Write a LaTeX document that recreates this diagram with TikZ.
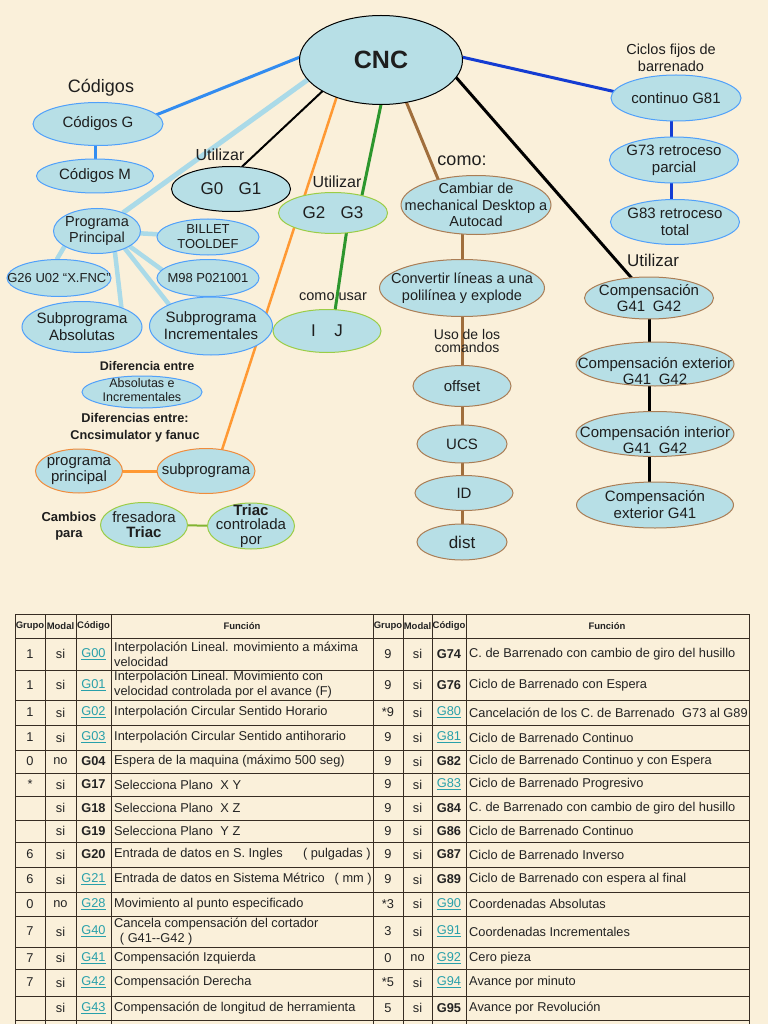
\documentclass[tikz,border=0pt]{standalone}
\usepackage{fontspec}
\setmainfont{Liberation Sans}
\usetikzlibrary{shapes.geometric,calc}
\pgfdeclarelayer{bgl}
\pgfdeclarelayer{edges}
\pgfsetlayers{bgl,edges,main}
\definecolor{bgc}{RGB}{250,240,218}
\definecolor{elf}{RGB}{183,223,230}
\definecolor{txt}{RGB}{30,30,30}
\definecolor{bdblue}{RGB}{80,160,250}
\definecolor{bdgreen}{RGB}{155,205,70}
\definecolor{bdbrown}{RGB}{170,125,85}
\definecolor{bdorange}{RGB}{240,140,60}
\definecolor{lnblue}{RGB}{50,140,240}
\definecolor{lnlight}{RGB}{170,218,232}
\definecolor{lnorange}{RGB}{255,153,51}
\definecolor{lngreen}{RGB}{45,150,45}
\definecolor{lnbrown}{RGB}{160,110,60}
\definecolor{lndblue}{RGB}{20,60,210}
\definecolor{lnyg}{RGB}{130,180,50}
\definecolor{linkc}{RGB}{40,160,170}
\definecolor{tline}{RGB}{55,45,35}
\definecolor{ttxt}{RGB}{35,35,35}
\newcommand\fsz[2]{\fontsize{#1}{#2}\selectfont}
\newcommand\lkc[1]{\textcolor{linkc}{\underline{#1}}}
\newcommand\bdc[1]{\textbf{#1}}
\tikzset{
  el/.style={ellipse, fill=elf, inner sep=0pt, outer sep=0pt, line width=1pt},
  eb/.style={el, draw=bdblue},
  ebk/.style={el, draw=black},
  eg/.style={el, draw=bdgreen},
  ebr/.style={el, draw=bdbrown},
  eo/.style={el, draw=bdorange},
  etx/.style={align=center, inner sep=0pt, text=txt},
  lbl/.style={align=center, inner sep=0pt, text=txt},
  lcb/.style={draw=lnblue, line width=3pt},
  llb/.style={draw=lnlight, line width=5pt},
  llb2/.style={draw=lnlight, line width=4.5pt},
  lblkthin/.style={draw=black, line width=2pt},
  lblk/.style={draw=black, line width=3pt},
  lor/.style={draw=lnorange, line width=2.5pt},
  lorthick/.style={draw=lnorange, line width=3pt},
  lgr/.style={draw=lngreen, line width=3pt},
  lbr/.style={draw=lnbrown, line width=3pt},
  ldb/.style={draw=lndblue, line width=3pt},
  lgl/.style={draw=lnyg, line width=2pt},
  tl/.style={draw=tline, line width=0.9pt},
  tc/.style={inner sep=0pt, text=ttxt, font=\fsz{12.8}{15}},
  tf/.style={inner sep=0pt, anchor=west, align=left, text=ttxt, font=\fsz{12.8}{15}},
  th/.style={inner sep=0pt, text=ttxt, font=\fsz{9.5}{10}\bfseries},
}
% #1 style, #2 name, #3 x, #4 y, #5 w, #6 h, #7 text options, #8 text
\newcommand\enode[8]{%
  \node[#1, minimum width=#5, minimum height=#6] (#2) at (#3,#4) {};
  \node[etx, #7] (#2-t) at (#2.center) {#8};}
\newcounter{rr}
\newcommand\tabrow[9]{%
  \stepcounter{rr}\edef\rn{\arabic{rr}}%
  \node[tc] (ga\rn) at (30,#1) {#2};
  \node[tc] (ma\rn) at (60.5,#1) {#3};
  \node[tc] (ca\rn) at (93.5,#1) {#4};
  \node[tf] (fa\rn) at (114,#1) {#5};
  \node[tc] (gb\rn) at (388,#1) {#6};
  \node[tc] (mb\rn) at (417.5,#1) {#7};
  \node[tc] (cb\rn) at (449,#1) {#8};
  \node[tf] (fb\rn) at (469,#1) {#9};}
\begin{document}
\begin{tikzpicture}[x=1pt,y=-1pt]
\useasboundingbox (0,0) rectangle (768,1024);
\begin{pgfonlayer}{bgl}
\fill[bgc] (0,0) rectangle (768,1024);
\end{pgfonlayer}

% ---------- concept map nodes ----------
\enode{ebk}{cnc}{381}{60}{163}{89}{font=\fsz{25}{28}\bfseries}{CNC}
\enode{eb}{codg}{98}{124}{130}{43}{font=\fsz{15}{17}}{Códigos G}
\enode{eb}{codm}{95}{176}{117}{34}{font=\fsz{15}{17}}{Códigos M}
\enode{ebk}{g01}{231}{189}{119}{45}{font=\fsz{17}{19}}{G0\hspace{0.9em}G1}
\enode{eb}{pp}{97}{231}{87}{45}{font=\fsz{14.5}{16}}{Programa\\Principal}
\enode{eb}{bil}{208}{237}{102}{36}{font=\fsz{13}{15}}{BILLET\\TOOLDEF}
\enode{eb}{g26}{59}{278}{104}{37}{font=\fsz{13}{15}}{G26 U02 “X.FNC”}
\enode{eb}{m98}{208}{278}{102}{37}{font=\fsz{13}{15}}{M98 P021001}
\enode{eb}{suba}{82}{327}{120}{51}{font=\fsz{15}{17}}{Subprograma\\Absolutas}
\enode{eb}{subi}{211}{326}{123}{58}{font=\fsz{15}{17}}{Subprograma\\Incrementales}
\enode{eg}{g23}{333}{213}{109}{41}{font=\fsz{17}{19}}{G2\hspace{0.9em}G3}
\enode{eg}{ij}{327}{331}{108}{43}{font=\fsz{17}{19}}{I\hspace{1.1em}J}
\enode{ebr}{camb}{476}{205}{150}{59}{font=\fsz{14.5}{16.3}}{Cambiar de\\mechanical Desktop a\\Autocad}
\enode{ebr}{conv}{462}{288}{165}{57}{font=\fsz{14.5}{17}}{Convertir líneas a una\\polilínea y explode}
\enode{ebr}{off}{462}{386}{98}{41}{font=\fsz{15}{17}}{offset}
\enode{ebr}{ucs}{462}{444}{90}{38}{font=\fsz{15}{17}}{UCS}
\enode{ebr}{idn}{464}{493}{98}{35}{font=\fsz{15}{17}}{ID}
\enode{ebr}{dist}{462}{542}{90}{36}{font=\fsz{17}{19}}{dist}
\enode{eb}{g81}{676}{98}{130}{46}{font=\fsz{15}{17}}{continuo G81}
\enode{eb}{g73}{674}{160}{129}{46}{font=\fsz{15}{17}}{G73 retroceso\\parcial}
\enode{eb}{g83}{675}{222}{129}{45}{font=\fsz{15}{17}}{G83 retroceso\\total}
\enode{ebr}{comp}{649}{298}{129}{42}{font=\fsz{15}{16}}{Compensación\\G41\hspace{0.5em}G42}
\enode{ebr}{cext}{655}{364}{158}{44}{font=\fsz{15}{16}, yshift=-7}{Compensación exterior\\G41\hspace{0.5em}G42}
\enode{ebr}{cint}{655}{434}{158}{45}{font=\fsz{15}{16}, yshift=-6}{Compensación interior\\G41\hspace{0.5em}G42}
\enode{ebr}{cext41}{655}{505}{157}{46}{font=\fsz{15}{17}}{Compensación\\exterior G41}
\enode{eb}{absinc}{142}{392}{120}{32}{font=\fsz{12.5}{14}, yshift=2}{Absolutas e\\Incrementales}
\enode{eo}{pprin}{79}{471}{87}{44}{font=\fsz{15}{15.5}}{programa\\principal}
\enode{eo}{subp}{206}{471}{98}{45}{font=\fsz{15}{17}}{subprograma}
\enode{eg}{fres}{144}{525}{87}{45}{font=\fsz{15}{15}}{fresadora\\\textbf{Triac}}
\enode{eg}{triac}{251}{526}{87}{46}{font=\fsz{15}{14.5}}{\textbf{Triac}\\controlada\\por}

% ---------- free labels ----------
\node[lbl, font=\fsz{18}{20}] (lcod) at (101,88) {Códigos};
\node[lbl, font=\fsz{16}{18}] (lut1) at (220,155) {Utilizar};
\node[lbl, font=\fsz{16}{18}] (lut2) at (337,182) {Utilizar};
\node[lbl, font=\fsz{18}{20}] (lcomo) at (462,161) {como:};
\node[lbl, font=\fsz{14.5}{16}] (lcomou) at (333,297) {como usar};
\node[lbl, font=\fsz{14}{13}] (luso) at (467,341) {Uso de los\\comandos};
\node[lbl, font=\fsz{14.5}{17}] (lcic) at (671,58) {Ciclos fijos de\\barrenado};
\node[lbl, font=\fsz{17}{19}] (lut3) at (653,260) {Utilizar};
\node[lbl, font=\fsz{12.5}{14}\bfseries] (ldif) at (147,366) {Diferencia entre};
\node[lbl, font=\fsz{12.7}{17}\bfseries] (ldifs) at (135,428) {Diferencias entre:\\Cncsimulator y fanuc};
\node[lbl, font=\fsz{13}{15.5}\bfseries] (lcamb) at (69,526) {Cambios\\para};

% ---------- connectors ----------
\begin{pgfonlayer}{edges}
\draw[lcb] (cnc.178) -- (codg.9);
\draw[lcb] (codm.center) -- (codm.center |- codg.center);
\draw[llb] (cnc.195) -- (pp.35);
\draw[lblkthin] (cnc.208) -- (g01.64);
\draw[lor] (cnc.220) -- (subp.53);
\draw[lgr] (cnc.270) -- (g23.31);
\draw[lbr] (cnc.301) -- (camb.146);
\draw[lblk] (cnc.347) -- (comp.131);
\draw[ldb] (cnc.2) -- (g81.174);
\draw[ldb] ($(g81.center)+(-5,0)$) -- ($(g81.center |- g83.center)+(-5,0)$);
\draw[lblk] (comp.center) -- (comp.center |- cext41.center);
\draw[lbr] (conv.center |- camb.center) -- (conv.center |- dist.center);
\draw[lgr] (g23.304) -- (ij.69);
\draw[llb2] (pp) -- (bil);
\draw[llb2] (pp.205) -- (g26.97);
\draw[llb2] (pp.335) -- (m98.170);
\draw[llb2] (pp.328) -- (subi.153);
\draw[llb2] (pp.311) -- (suba.26);
\draw[lorthick] (pprin) -- (subp);
\draw[lgl] (fres) -- (triac);
\end{pgfonlayer}

% ---------- table ----------
\foreach \yy in {614,638,670,700,725,750,773,796,820,842,867,892,916,947,969,996,1020}
  \draw[tl] (15,\yy) -- (749,\yy);
\foreach \xx in {15,45,76,111,373,403,432,466,749}
  \draw[tl] (\xx,614) -- (\xx,1024);

\node[th] (h1) at (30,626) {Grupo};
\node[th] (h2) at (60.5,626) {Modal};
\node[th] (h3) at (93.5,626) {Código};
\node[th] (h4) at (242,626) {Función};
\node[th] (h5) at (388,626) {Grupo};
\node[th] (h6) at (417.5,626) {Modal};
\node[th] (h7) at (449,626) {Código};
\node[th] (h8) at (607,626) {Función};

\tabrow{654}{1}{si}{\lkc{G00}}{Interpolación Lineal. movimiento a máxima\\velocidad}{9}{si}{\bdc{G74}}{C. de Barrenado con cambio de giro del husillo}
\tabrow{685}{1}{si}{\lkc{G01}}{Interpolación Lineal. Movimiento con\\velocidad controlada por el avance (F)}{9}{si}{\bdc{G76}}{Ciclo de Barrenado con Espera}
\tabrow{712.5}{1}{si}{\lkc{G02}}{Interpolación Circular Sentido Horario}{*9}{si}{\lkc{G80}}{Cancelación de los C. de Barrenado\hspace{0.3em} G73 al G89}
\tabrow{737.5}{1}{si}{\lkc{G03}}{Interpolación Circular Sentido antihorario}{9}{si}{\lkc{G81}}{Ciclo de Barrenado Continuo}
\tabrow{761.5}{0}{no}{\bdc{G04}}{Espera de la maquina (máximo 500 seg)}{9}{si}{\bdc{G82}}{Ciclo de Barrenado Continuo y con Espera}
\tabrow{784.5}{*}{si}{\bdc{G17}}{Selecciona Plano\hspace{0.3em} X Y}{9}{si}{\lkc{G83}}{Ciclo de Barrenado Progresivo}
\tabrow{808}{}{si}{\bdc{G18}}{Selecciona Plano\hspace{0.3em} X Z}{9}{si}{\bdc{G84}}{C. de Barrenado con cambio de giro del husillo}
\tabrow{831}{}{si}{\bdc{G19}}{Selecciona Plano\hspace{0.3em} Y Z}{9}{si}{\bdc{G86}}{Ciclo de Barrenado Continuo}
\tabrow{854.5}{6}{si}{\bdc{G20}}{Entrada de datos en S. Ingles\hspace{1.3em} ( pulgadas )}{9}{si}{\bdc{G87}}{Ciclo de Barrenado Inverso}
\tabrow{879.5}{6}{si}{\lkc{G21}}{Entrada de datos en Sistema Métrico\hspace{0.5em} ( mm )}{9}{si}{\bdc{G89}}{Ciclo de Barrenado con espera al final}
\tabrow{904}{0}{no}{\lkc{G28}}{Movimiento al punto especificado}{*3}{si}{\lkc{G90}}{Coordenadas Absolutas}
\tabrow{931.5}{7}{si}{\lkc{G40}}{Cancela compensación del cortador\\\hspace{0.45em}( G41{-}{-}G42 )}{3}{si}{\lkc{G91}}{Coordenadas Incrementales}
\tabrow{958}{7}{si}{\lkc{G41}}{Compensación Izquierda}{0}{no}{\lkc{G92}}{Cero pieza}
\tabrow{982.5}{7}{si}{\lkc{G42}}{Compensación Derecha}{*5}{si}{\lkc{G94}}{Avance por minuto}
\tabrow{1008}{}{si}{\lkc{G43}}{Compensación de longitud de herramienta}{5}{si}{\bdc{G95}}{Avance por Revolución}
\end{tikzpicture}
\end{document}
